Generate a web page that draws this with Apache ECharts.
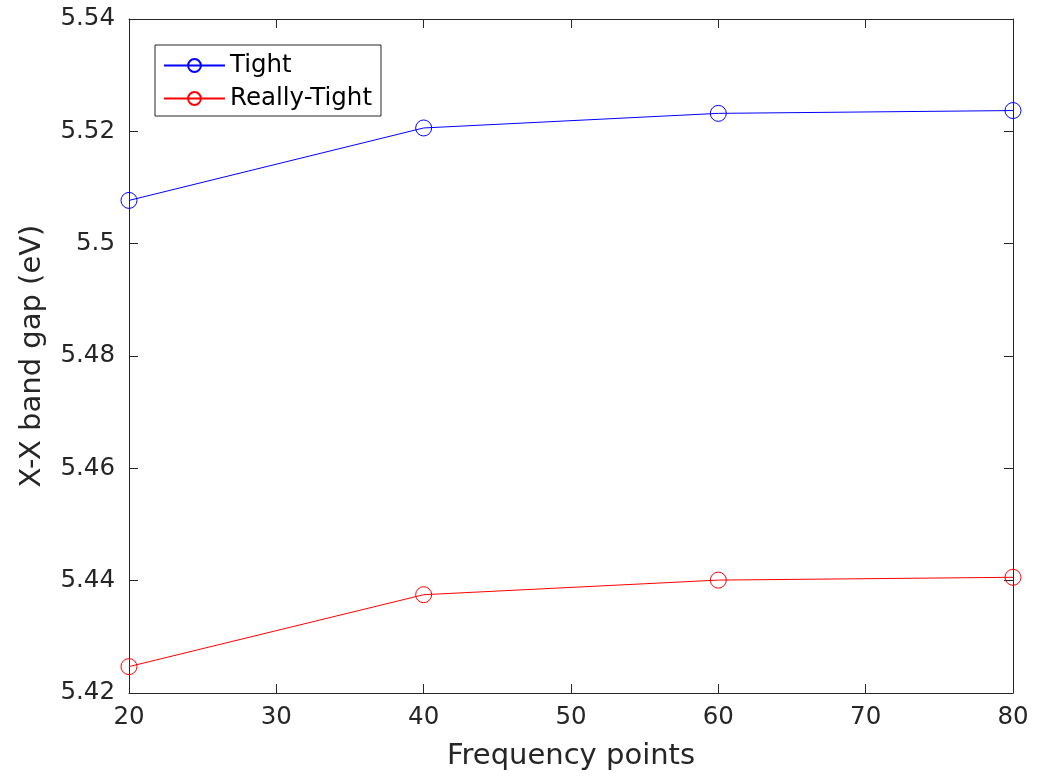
<!DOCTYPE html>
<html>
<head>
<meta charset="utf-8">
<script src="https://cdn.jsdelivr.net/npm/echarts@6/dist/echarts.min.js"></script>
<style>html,body{margin:0;padding:0;background:#fff}#c{width:1038px;height:779px}</style>
</head>
<body>
<div id="c"></div>
<script>
const xValues = [20, 40, 60, 80];
const tight = [5.5077, 5.5206, 5.5232, 5.5237];
const reallyTight = [5.4247, 5.4375, 5.4401, 5.4406];
const seriesNames = ['Tight', 'Really-Tight'];
const xTitle = 'Frequency points';
const yTitle = 'X-X band gap (eV)';

const FONT = 'DejaVu Sans';
const AX = '#262626';
const chart = echarts.init(document.getElementById('c'), null, {renderer: 'canvas'});

function pairs(ys) { return xValues.map((x, i) => [x, ys[i]]); }

const axisCommon = {
  axisLine: {show: true, lineStyle: {color: AX, width: 1}},
  axisTick: {show: true, inside: true, length: 9, lineStyle: {color: AX}},
  splitLine: {show: false}
};

function lineSeries(name, ys, col) {
  return {
    name: name, type: 'line', data: pairs(ys), symbol: 'circle', symbolSize: 16,
    color: col,
    lineStyle: {width: 1, color: col},
    itemStyle: {color: 'rgba(255,255,255,0)', borderColor: col, borderWidth: 1},
    emphasis: {disabled: true}
  };
}

chart.setOption({
  animation: false,
  backgroundColor: '#fff',
  grid: {left: 129, right: 25, top: 19, bottom: 86, containLabel: false},
  legend: {
    orient: 'vertical', left: 155, top: 45,
    data: seriesNames,
    borderColor: AX, borderWidth: 1, backgroundColor: '#fff',
    padding: [8, 9, 5, 8], itemGap: 8, itemWidth: 61, itemHeight: 16,
    textStyle: {fontFamily: FONT, fontSize: 24.5, color: '#000', padding: [0, 0, 0, 0]}
  },
  xAxis: [
    Object.assign({type: 'value', min: 20, max: 80, interval: 10, position: 'bottom',
      name: xTitle, nameLocation: 'middle', nameGap: 49,
      nameTextStyle: {fontFamily: FONT, fontSize: 29, color: AX},
      axisLabel: {fontFamily: FONT, fontSize: 24.5, color: AX, margin: 12}}, axisCommon),
    Object.assign({type: 'value', min: 20, max: 80, interval: 10, position: 'top',
      axisLabel: {show: false}}, axisCommon)
  ],
  yAxis: [
    Object.assign({type: 'value', min: 5.42, max: 5.54, interval: 0.02, position: 'left',
      name: yTitle, nameLocation: 'middle', nameGap: 82, nameRotate: 90,
      nameTextStyle: {fontFamily: FONT, fontSize: 29, color: AX},
      axisLabel: {fontFamily: FONT, fontSize: 24.5, color: AX, margin: 14,
        formatter: v => String(parseFloat(v.toFixed(2)))}}, axisCommon),
    Object.assign({type: 'value', min: 5.42, max: 5.54, interval: 0.02, position: 'right',
      axisLabel: {show: false}}, axisCommon)
  ],
  series: [
    lineSeries(seriesNames[0], tight, '#0000ff'),
    lineSeries(seriesNames[1], reallyTight, '#ff0000')
  ]
});
</script>
</body>
</html>
